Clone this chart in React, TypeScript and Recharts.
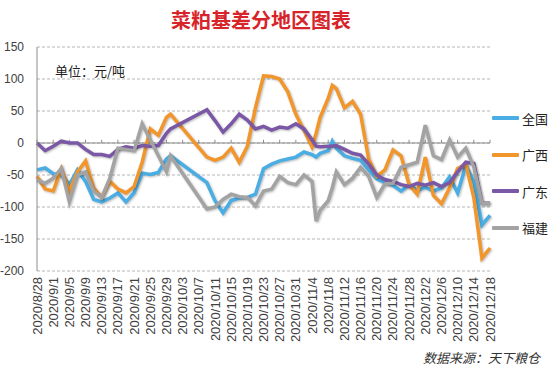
import React from "react";
import { CartesianGrid, Line, LineChart, ReferenceLine, XAxis, YAxis } from "recharts";

// days counted from 2020/8/28
const days = [
  0, 2, 4, 6, 8, 10, 12, 14, 16, 18, 20, 22, 24, 26, 28, 30, 32, 33, 42, 44, 46, 48, 50, 52, 54, 56, 58, 60,
  62, 64, 66, 68, 69, 70, 72, 73, 74, 76, 78, 80, 82, 84, 86, 88, 90, 92, 94, 96, 98, 100, 102, 104, 106,
  108, 110, 112,
];

const quanguo = [
  -42, -39, -48, -50, -65, -42, -60, -88, -92, -86, -78, -92, -78, -47, -49, -46, -25, -20, -62, -90, -109,
  -90, -86, -85, -80, -40, -33, -28, -25, -22, -14, -18, -22, -16, -12, 3, -8, -20, -24, -27, -42, -56, -62,
  -66, -75, -65, -74, -69, -75, -70, -53, -78, -35, -60, -128, -113,
];

const guangxi = [
  -52, -72, -75, -40, -75, -45, -28, -70, -85, -60, -72, -78, -68, -30, 22, 12, 40, 45, -22, -27, -22, -8,
  -30, -5, 55, 105, 104, 100, 80, 45, 20, -6, 15, 40, 70, 90, 85, 55, 65, 45, -25, -52, -42, -11, -20, -65,
  -80, -22, -82, -95, -70, -40, -33, -85, -180, -164,
];

const guangdong = [
  0, -12, -5, 3, 0, 0, -10, -18, -18, -21, -10, -6, -8, -4, -5, -4, 15, 22, 52, 35, 17, 30, 45, 36, 22, 26,
  20, 25, 23, 30, 22, 5, -5, -6, -5, -5, -4, -10, -16, -19, -33, -50, -57, -60, -65, -68, -63, -66, -62, -68,
  -62, -45, -30, -32, -94, -94,
];

const fujian = [
  -58, -63, -55, -40, -92, -50, -45, -75, -85, -55, -8, -10, -12, 30, 5, -20, -45, -20, -103, -100, -88, -80,
  -84, -85, -98, -75, -72, -52, -62, -65, -50, -60, -122, -105, -90, -70, -45, -65, -55, -38, -52, -85, -64,
  -63, -38, -34, -30, 28, -20, -26, 5, -22, -8, -37, -94, -94,
];

const tickDays = [0, 4, 8, 12, 16, 20, 24, 28, 32, 36, 40, 44, 48, 52, 56, 60, 64, 68, 72, 76, 80, 84, 88, 92, 96, 100, 104, 108, 112];
const tickLabels = [
  "2020/8/28", "2020/9/1", "2020/9/5", "2020/9/9", "2020/9/13", "2020/9/17", "2020/9/21", "2020/9/25",
  "2020/9/29", "2020/10/3", "2020/10/7", "2020/10/11", "2020/10/15", "2020/10/19", "2020/10/23",
  "2020/10/27", "2020/10/31", "2020/11/4", "2020/11/8", "2020/11/12", "2020/11/16", "2020/11/20",
  "2020/11/24", "2020/11/28", "2020/12/2", "2020/12/6", "2020/12/10", "2020/12/14", "2020/12/18",
];
const yTicks = [-200, -150, -100, -50, 0, 50, 100, 150];

const series = [
  { key: "全国", color: "#4aaee4" },
  { key: "广西", color: "#f2962c" },
  { key: "广东", color: "#7b58a6" },
  { key: "福建", color: "#a3a3a3" },
];

const data = days.map((day, i) => ({
  day,
  全国: quanguo[i],
  广西: guangxi[i],
  广东: guangdong[i],
  福建: fujian[i],
}));

const cjk = '"Noto Sans CJK SC", "Noto Sans", sans-serif';
const latin = '"Liberation Sans", Arial, sans-serif';

function DateTick({ x, y, payload }: any) {
  const idx = tickDays.indexOf(payload.value);
  return (
    <text
      x={x}
      y={y}
      transform={`rotate(-90 ${x} ${y})`}
      textAnchor="end"
      dy="0.35em"
      fontSize={13}
      fill="#404040"
      fontFamily={latin}
    >
      {tickLabels[idx]}
    </text>
  );
}

export default function App() {
  return (
    <div style={{ position: "absolute", left: 0, top: 0, width: 550, height: 367, background: "#fff" }}>
      <style>{`.recharts-line-curve { filter: drop-shadow(1px 1.5px 1px rgba(0,0,0,0.28)); }`}</style>
      <div
        style={{
          position: "absolute",
          left: 0,
          width: 522,
          top: 5,
          textAlign: "center",
          fontFamily: cjk,
          fontWeight: 700,
          fontSize: 20,
          color: "#d7242a",
        }}
      >
        菜粕基差分地区图表
      </div>
      <LineChart width={550} height={367} data={data} margin={{ top: 47, right: 60, bottom: 0, left: 0 }}>
        <CartesianGrid horizontal vertical={false} stroke="#b5b5b5" strokeDasharray="3 2" />
        <XAxis
          dataKey="day"
          type="number"
          scale="linear"
          domain={[0, 112]}
          ticks={tickDays}
          interval={0}
          height={96}
          axisLine={false}
          tickLine={false}
          tickSize={0}
          tickMargin={6}
          tick={<DateTick />}
        />
        <YAxis
          domain={[-200, 150]}
          ticks={yTicks}
          interval={0}
          width={37}
          axisLine={{ stroke: "#8c8c8c" }}
          tickLine={false}
          tickMargin={7}
          tick={{ fontSize: 12, fill: "#404040", fontFamily: latin }}
        />
        <ReferenceLine y={0} stroke="#8c8c8c" />
        {tickDays.map((d) => (
          <ReferenceLine
            key={d}
            segment={[
              { x: d, y: 0 },
              { x: d, y: 5 },
            ]}
            stroke="#8c8c8c"
          />
        ))}
        {series.map((s) => (
          <Line
            key={s.key}
            dataKey={s.key}
            stroke={s.color}
            strokeWidth={3.5}
            dot={false}
            type="linear"
            isAnimationActive={false}
          />
        ))}
      </LineChart>
      <div style={{ position: "absolute", left: 55, top: 61, fontFamily: cjk, fontSize: 13, color: "#222" }}>
        单位：元/吨
      </div>
      {series.map((s, i) => (
        <div
          key={s.key}
          style={{
            position: "absolute",
            left: 492,
            top: 108 + i * 36.5,
            height: 20,
            display: "flex",
            alignItems: "center",
            fontFamily: cjk,
            fontSize: 13,
            color: "#222",
          }}
        >
          <div style={{ width: 27, height: 4, background: s.color, marginRight: 3, borderRadius: 1 }} />
          {s.key}
        </div>
      ))}
      <div
        style={{
          position: "absolute",
          left: 423,
          top: 348,
          fontFamily: cjk,
          fontSize: 13,
          fontStyle: "italic",
          color: "#333",
        }}
      >
        数据来源：天下粮仓
      </div>
    </div>
  );
}
